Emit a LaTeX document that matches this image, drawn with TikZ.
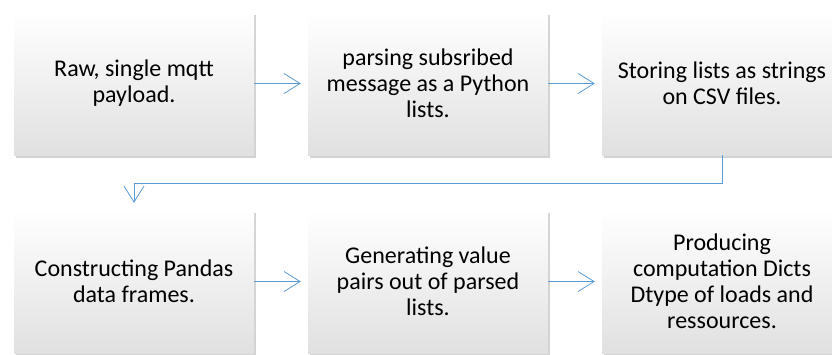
\documentclass[tikz,border=0pt]{standalone}
\usepackage{fontspec}
\setmainfont{Carlito}
\usepackage{tikz}
\usetikzlibrary{arrows.meta,shadows}
\definecolor{flowblue}{HTML}{5B9BD5}
\newcommand{\boxw}{240pt}
\newcommand{\boxh}{143pt}
\tikzset{
  stage/.style={rectangle, minimum width=\boxw, minimum height=\boxh, inner sep=0pt,
    align=center, font=\fontsize{24}{26}\selectfont,
    top color=white, middle color=white, bottom color=black!12,
    drop shadow={shadow xshift=1.5pt, shadow yshift=-2.5pt, opacity=0.35}},
  flow/.style={draw=flowblue, line width=0.8pt,
    -{Straight Barb[length=16pt,width=20pt]}, shorten >=7pt}
}

\begin{document}
\begin{tikzpicture}[x=1pt,y=1pt]
\useasboundingbox (0,0) rectangle (832,-354);
\node[stage] (1) at (134,-83.5) {Raw, single mqtt\\payload.};
\node[stage] (2) at (428,-83.5) {parsing subsribed\\message as a Python\\lists.};
\node[stage] (3) at (722,-83.5) {Storing lists as strings\\on CSV files.};
\node[stage] (4) at (134,-281.5) {Constructing Pandas\\data frames.};
\node[stage] (5) at (428,-281.5) {Generating value\\pairs out of parsed\\lists.};
\node[stage] (6) at (722,-281.5) {Producing\\computation Dicts\\Dtype of loads and\\ressources.};
%top row
\draw[flow] (1) -- (2);
\draw[flow] (2) -- (3);
%turn down
\draw[flow] (3.south) -- ++(0,-28) -| (4.north);
%bottom row
\draw[flow] (4) -- (5);
\draw[flow] (5) -- (6);
\end{tikzpicture}
\end{document}
